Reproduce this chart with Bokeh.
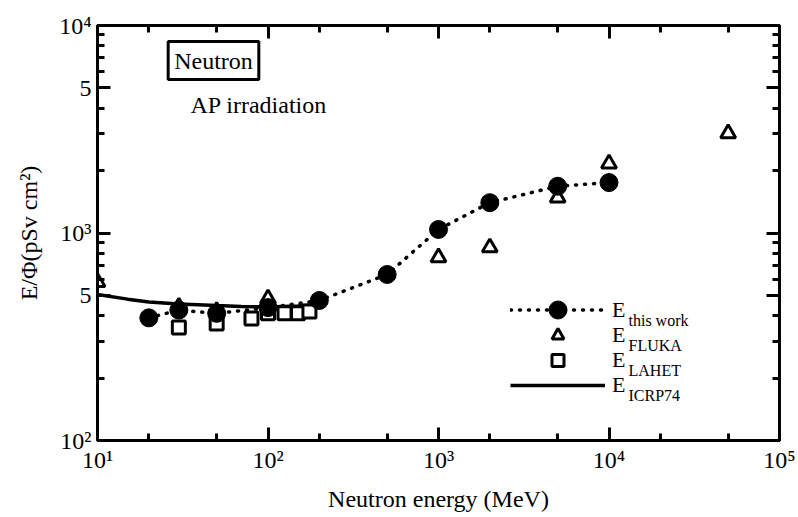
from bokeh.plotting import figure
from bokeh.models import FixedTicker, LogAxis, Legend, LegendItem, Label, Range1d
from bokeh.embed import file_html
from bokeh.resources import INLINE

# ---- data ----
this_work_E = [20, 30, 50, 100, 200, 500, 1000, 2000, 5000, 10000]
this_work_val = [390, 425, 410, 437, 473, 631, 1040, 1400, 1680, 1750]

fluka_E = [10, 30, 50, 100, 1000, 2000, 5000, 10000, 50000]
fluka_val = [580, 440, 420, 483, 762, 851, 1480, 2160, 3020]

lahet_E = [30, 50, 80, 100, 125, 150, 175]
lahet_val = [350, 366, 387, 410, 410, 410, 419]

icrp_E = [10, 15, 20, 30, 50, 70, 100, 150, 180]
icrp_val = [505, 480, 465, 455, 447, 442, 440, 445, 450]

x_ticks = [10, 100, 1000, 10000, 100000]
x_minor = [20, 50, 200, 500, 2000, 5000, 20000, 50000]
x_labels = {10: "10¹", 100: "10²", 1000: "10³", 10000: "10⁴", 100000: "10⁵"}
y_ticks = [100, 500, 1000, 5000, 10000]
y_minor = [200, 300, 400, 600, 700, 800, 900, 2000, 3000, 4000, 6000, 7000, 8000, 9000]
y_labels = {100: "10²", 500: "5", 1000: "10³", 5000: "5", 10000: "10⁴"}

FONT = "Liberation Serif"

p = figure(width=798, height=517, x_axis_type="log", y_axis_type="log",
           x_range=Range1d(10, 1e5), y_range=Range1d(100, 1e4),
           output_backend="svg", toolbar_location=None,
           min_border_left=97, min_border_right=19, min_border_top=25, min_border_bottom=77)
p.grid.visible = False
p.outline_line_color = "black"
p.outline_line_width = 3
p.background_fill_color = "white"
p.border_fill_color = "white"


def style_axis(ax, show_labels=True):
    ax.major_tick_in = 13
    ax.major_tick_out = 0
    ax.minor_tick_in = 7
    ax.minor_tick_out = 0
    ax.axis_line_width = 3
    ax.axis_line_color = "black"
    ax.major_tick_line_width = 3
    ax.minor_tick_line_width = 3
    ax.major_tick_line_color = "black"
    ax.minor_tick_line_color = "black"
    ax.major_label_text_font = FONT
    ax.major_label_text_color = "black"
    ax.major_label_text_font_size = "24px" if show_labels else "0px"
    ax.major_label_standoff = 6
    ax.axis_label_text_font = FONT
    ax.axis_label_text_font_style = "normal"
    ax.axis_label_text_font_size = "24px"
    ax.axis_label_text_color = "black"


xt = FixedTicker(ticks=x_ticks, minor_ticks=x_minor)
yt = FixedTicker(ticks=y_ticks, minor_ticks=y_minor)

p.xaxis[0].ticker = xt
p.yaxis[0].ticker = yt
p.xaxis[0].major_label_overrides = x_labels
p.yaxis[0].major_label_overrides = y_labels
style_axis(p.xaxis[0])
style_axis(p.yaxis[0])
p.xaxis[0].axis_label = "Neutron energy (MeV)"
p.yaxis[0].axis_label = "E/Φ(pSv cm²)"
p.xaxis[0].axis_label_standoff = 10
p.yaxis[0].axis_label_standoff = 14

top_ax = LogAxis(ticker=xt, major_label_overrides={k: "" for k in x_ticks})
right_ax = LogAxis(ticker=yt, major_label_overrides={k: "" for k in y_ticks})
style_axis(top_ax, False)
style_axis(right_ax, False)
p.add_layout(top_ax, "above")
p.add_layout(right_ax, "right")

# ---- data marks ----
r_icrp = p.line(icrp_E, icrp_val, line_width=3.5, line_color="black")
r_tw_line = p.line(this_work_E, this_work_val, line_width=3.5, line_color="black",
                   line_dash="1 8", line_cap="round")
r_lahet = p.scatter(lahet_E, lahet_val, marker="square", size=13, fill_color="white",
                    line_color="black", line_width=3)
r_fluka = p.scatter(fluka_E, fluka_val, marker="triangle", size=15, fill_color="white",
                    line_color="black", line_width=3)
r_tw = p.scatter(this_work_E, this_work_val, marker="circle", size=18, fill_color="black",
                 line_color="black")


# ---- legend (one per entry so each sample gets its own size) ----
def make_legend(renderers, loc, gh):
    lg = Legend(items=[LegendItem(label="E", renderers=renderers)], location=loc,
                glyph_width=95, glyph_height=gh, label_height=gh,
                label_text_font=FONT, label_text_font_size="22px", label_standoff=7,
                spacing=0, padding=0, margin=0, border_line_alpha=0,
                background_fill_alpha=0, label_text_color="black")
    p.add_layout(lg)


make_legend([r_tw_line, r_tw], (413, 108), 45)
make_legend([r_fluka], (413, 90), 30)
make_legend([r_lahet], (413, 65), 30)
make_legend([r_icrp], (413, 40), 30)

subs = [("this work", 120), ("FLUKA", 95), ("LAHET", 70), ("ICRP74", 45)]
for txt, yy in subs:
    p.add_layout(Label(x=531, y=yy, x_units="screen", y_units="screen", text=txt,
                       text_font=FONT, text_font_size="16px", text_baseline="alphabetic",
                       text_color="black"))

p.add_layout(Label(x=116, y=380, x_units="screen", y_units="screen", text="Neutron",
                   text_font=FONT, text_font_size="24px", text_align="center",
                   text_baseline="middle", text_color="black",
                   border_line_color="black", border_line_width=3, padding=6))
p.add_layout(Label(x=93, y=336, x_units="screen", y_units="screen", text="AP irradiation",
                   text_font=FONT, text_font_size="24px", text_baseline="alphabetic",
                   text_color="black"))

open("out.html", "w").write(file_html(p, INLINE))
